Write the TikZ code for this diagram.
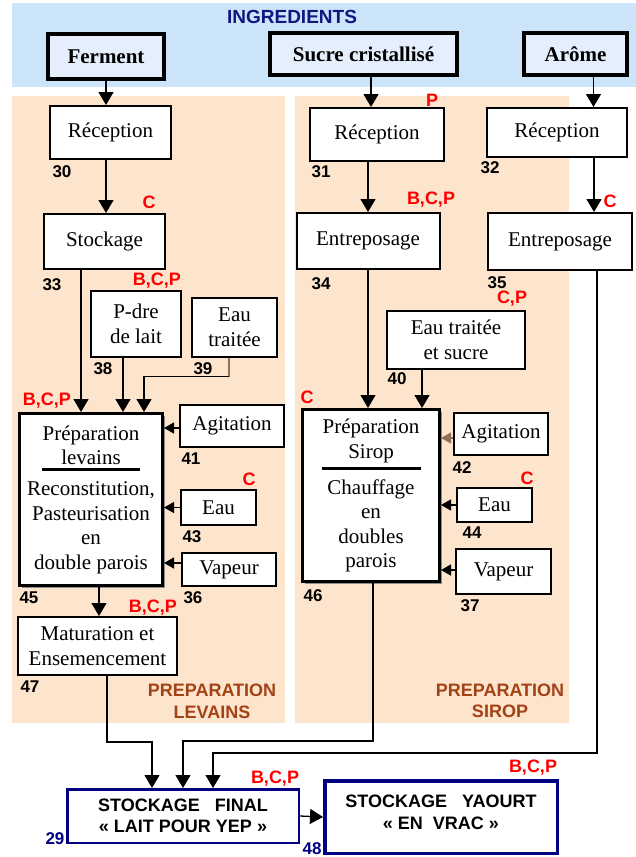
\documentclass[tikz,border=0pt]{standalone}
\usepackage{fontspec}
\setmainfont{Liberation Serif}
\setsansfont{Liberation Sans}
\usetikzlibrary{arrows.meta,shadows}

\definecolor{bandblue}{RGB}{204,228,250}
\definecolor{ingfill}{RGB}{228,238,252}
\definecolor{peach}{RGB}{253,228,204}
\definecolor{ingnavy}{RGB}{16,24,128}
\definecolor{boxnavy}{RGB}{0,0,128}
\definecolor{zonebrown}{RGB}{163,66,20}
\definecolor{tanline}{RGB}{140,115,85}

\newcommand{\serif}{\fontsize{21}{24.5}\selectfont}
\newcommand{\sansb}{\sffamily\bfseries\fontsize{18}{21.5}\selectfont}

\begin{document}
\begin{tikzpicture}[x=1pt, y=-1pt,
  box/.style={draw, line width=2pt, fill=white, inner sep=0pt, align=center, font=\serif},
  ingr/.style={box, line width=4pt, fill=ingfill, font=\serif\bfseries},
  prep/.style={box, line width=3pt, drop shadow={shadow xshift=2.5pt, shadow yshift=-2.5pt, fill=black!45, opacity=1}},
  stock/.style={draw=boxnavy, fill=white, inner sep=0pt, align=center, font=\sansb},
  num/.style={font=\sffamily\bfseries\fontsize{17}{19}\selectfont, inner sep=0pt},
  haccp/.style={text=red, font=\sansb, inner sep=0pt},
  zone/.style={text=zonebrown, font=\sansb, align=center, inner sep=0pt},
  flow/.style={-{Triangle[length=13pt, width=15pt]}, line width=1.3pt},
  side/.style={-{Triangle[length=10pt, width=11pt]}, line width=1.3pt}]
  \useasboundingbox (0,0) rectangle (636,857);

  % Draw zones
  \fill[bandblue] (12,3) rectangle (636,87);
  \fill[peach] (12,96) rectangle (285,723);
  \fill[peach] (295,96) rectangle (569,723);

  % Draw ingredients
  \node[text=ingnavy, font=\sffamily\bfseries\fontsize{19}{22}\selectfont] (ingr) at (292,17) {INGREDIENTS};
  \node[ingr, minimum width=116pt, minimum height=45pt] (fer) at (106,56.5) {Ferment};
  \node[ingr, minimum width=187pt, minimum height=42pt] (sucre) at (363.5,54) {Sucre cristallisé};
  \node[ingr, minimum width=103pt, minimum height=42pt] (arome) at (575.5,54) {Arôme};

  % Draw levains boxes
  \node[box, minimum width=121pt, minimum height=53pt] (recL) at (110.5,132.5) {Réception};
  \node[box, minimum width=121pt, minimum height=55pt] (stoL) at (104.5,241.5) {Stockage};
  \node[box, minimum width=90pt, minimum height=66pt] (pdre) at (136,324) {P-dre\\de lait};
  \node[box, minimum width=85pt, minimum height=59pt] (eauL) at (234.5,327) {Eau\\traitée};
  \node[prep, minimum width=143pt, minimum height=172pt] (prepL) at (91,499.5)
    {Préparation\\levains\\[-18pt]\rule{98pt}{3pt}\\Reconstitution,\\Pasteurisation\\en\\double parois};
  \node[box, minimum width=104pt, minimum height=42pt] (agiL) at (232,426) {Agitation};
  \node[box, minimum width=75pt, minimum height=35pt] (eau43) at (218.5,507.5) {Eau};
  \node[box, minimum width=94pt, minimum height=33pt] (vapL) at (229,569.5) {Vapeur};
  \node[box, minimum width=159pt, minimum height=58pt] (matL) at (97.5,646) {Maturation et\\Ensemencement};

  % Draw sirop boxes
  \node[box, minimum width=134pt, minimum height=53pt] (recS) at (377,134.5) {Réception};
  \node[box, minimum width=143pt, minimum height=56pt] (entS) at (368,241) {Entreposage};
  \node[box, minimum width=138pt, minimum height=58pt] (ets) at (456,340) {Eau traitée\\et sucre};
  \node[prep, minimum width=137pt, minimum height=172pt] (prepS) at (371,495.5)
    {Préparation\\Sirop\\[-13pt]\rule{99pt}{3pt}\\Chauffage\\en\\doubles\\parois};
  \node[box, minimum width=94pt, minimum height=42pt] (agiS) at (501,434) {Agitation};
  \node[box, minimum width=75pt, minimum height=34pt] (eauS) at (494.5,505) {Eau};
  \node[box, minimum width=95pt, minimum height=45pt] (vapS) at (503.5,571.5) {Vapeur};

  % Draw arome boxes
  \node[box, minimum width=140pt, minimum height=49pt] (recA) at (557,132.5) {Réception};
  \node[box, minimum width=144pt, minimum height=57pt] (entA) at (560,241.5) {Entreposage};

  % Draw storage
  \node[stock, line width=2.5pt, minimum width=231.5pt, minimum height=53.5pt] (fin) at (183,816)
    {STOCKAGE~~~FINAL\\« LAIT POUR YEP »};
  \node[stock, line width=3.5pt, minimum width=232.5pt, minimum height=72.5pt] (yao) at (441,817)
    {STOCKAGE~~~YAOURT\\« EN~~VRAC »\rule[-10pt]{0pt}{10pt}};

  % Draw numbers
  \foreach \x/\y/\t in {62/172/30, 52/285/33, 103/369/38, 203/369/39, 191/459/41,
      192/537/43, 193/598/36, 29/598/45, 30/687/47, 321/172/31, 321/284/34,
      490/168/32, 497/283/35, 397/379/40, 462/468/42, 472/533/44, 470/606/37, 313/596/46}
    \node[num] (n\t) at (\x,\y) {\t};
  \node[num, text=boxnavy] (n29) at (55,839) {29};
  \node[num, text=boxnavy] (n48) at (312,849) {48};

  % Draw hazards
  \foreach \x/\y/\t [count=\i] in {149/202/C, 157/281/{B,C,P}, 47/401/{B,C,P}, 249/479/C,
      153/608/{B,C,P}, 432/100/P, 431/200/{B,C,P}, 610/201/C, 512/299/{C,P},
      307/397/C, 527/478/C, 275/779/{B,C,P}, 533/768/{B,C,P}}
    \node[haccp] (h\i) at (\x,\y) {\t};

  \node[zone] (zL) at (212,701.5) {PREPARATION\\LEVAINS};
  \node[zone] (zS) at (500,701) {PREPARATION\\SIROP};

  % Draw flows levains
  \draw[flow] (fer.south) -- (fer.south |- recL.north);
  \draw[flow] (fer.south |- recL.south) -- (fer.south |- stoL.north);
  \draw[flow] ([xshift=-23.5pt]stoL.south) -- ([xshift=-23.5pt]stoL.south |- prepL.north);
  \draw[flow] ([xshift=-13pt]pdre.south) -- ([xshift=-13pt]pdre.south |- prepL.north);
  \draw[line width=1.3pt, tanline] ([xshift=-5.5pt]eauL.south) -- ++(0,19) coordinate (k39);
  \draw[flow] (k39) -| ([xshift=53pt]prepL.north);
  \draw[side] ([yshift=-2pt]agiL.west) -- ([yshift=-2pt]agiL.west -| prepL.east);
  \draw[side] (eau43.west) -- (eau43.west -| prepL.east);
  \draw[side] ([yshift=6.5pt]vapL.west) -- ([yshift=6.5pt]vapL.west -| prepL.east);
  \draw[flow] ([xshift=8pt]prepL.south) -- ([xshift=8pt]prepL.south |- matL.north);

  % Draw flows sirop
  \draw[flow] ([xshift=7.5pt]sucre.south) -- ([xshift=7.5pt]sucre.south |- recS.north);
  \draw[flow] ([xshift=-9pt]recS.south) -- ([xshift=-9pt]recS.south |- entS.north);
  \draw[flow] (entS.south) -- (entS.south |- prepS.north);
  \draw[flow] ([xshift=-34pt]ets.south) -- ([xshift=-34pt]ets.south |- prepS.north);
  \draw[side, tanline] ([yshift=-4pt]agiS.west) -- ([yshift=-4pt]agiS.west -| prepS.east);
  \draw[side] (eauS.west) -- (eauS.west -| prepS.east);
  \draw[side] ([yshift=1.5pt]vapS.west) -- ([yshift=1.5pt]vapS.west -| prepS.east);

  % Draw flows arome
  \draw[flow] ([xshift=18pt]arome.south) -- ([xshift=18pt]arome.south |- recA.north);
  \draw[flow] ([xshift=37pt]recA.south) -- ([xshift=37pt]recA.south |- entA.north);

  % Draw flows to storage
  \draw[flow] ([xshift=9.5pt]matL.south) -- ++(0,66) -| ([xshift=-31pt]fin.north);
  \draw[flow] ([xshift=2pt]prepS.south) -- ++(0,158) -| (fin.north);
  \draw[flow] ([xshift=37pt]entA.south) -- ++(0,482) -| ([xshift=30pt]fin.north);
  \draw[flow] (fin.east) -- (yao.west);
\end{tikzpicture}
\end{document}
